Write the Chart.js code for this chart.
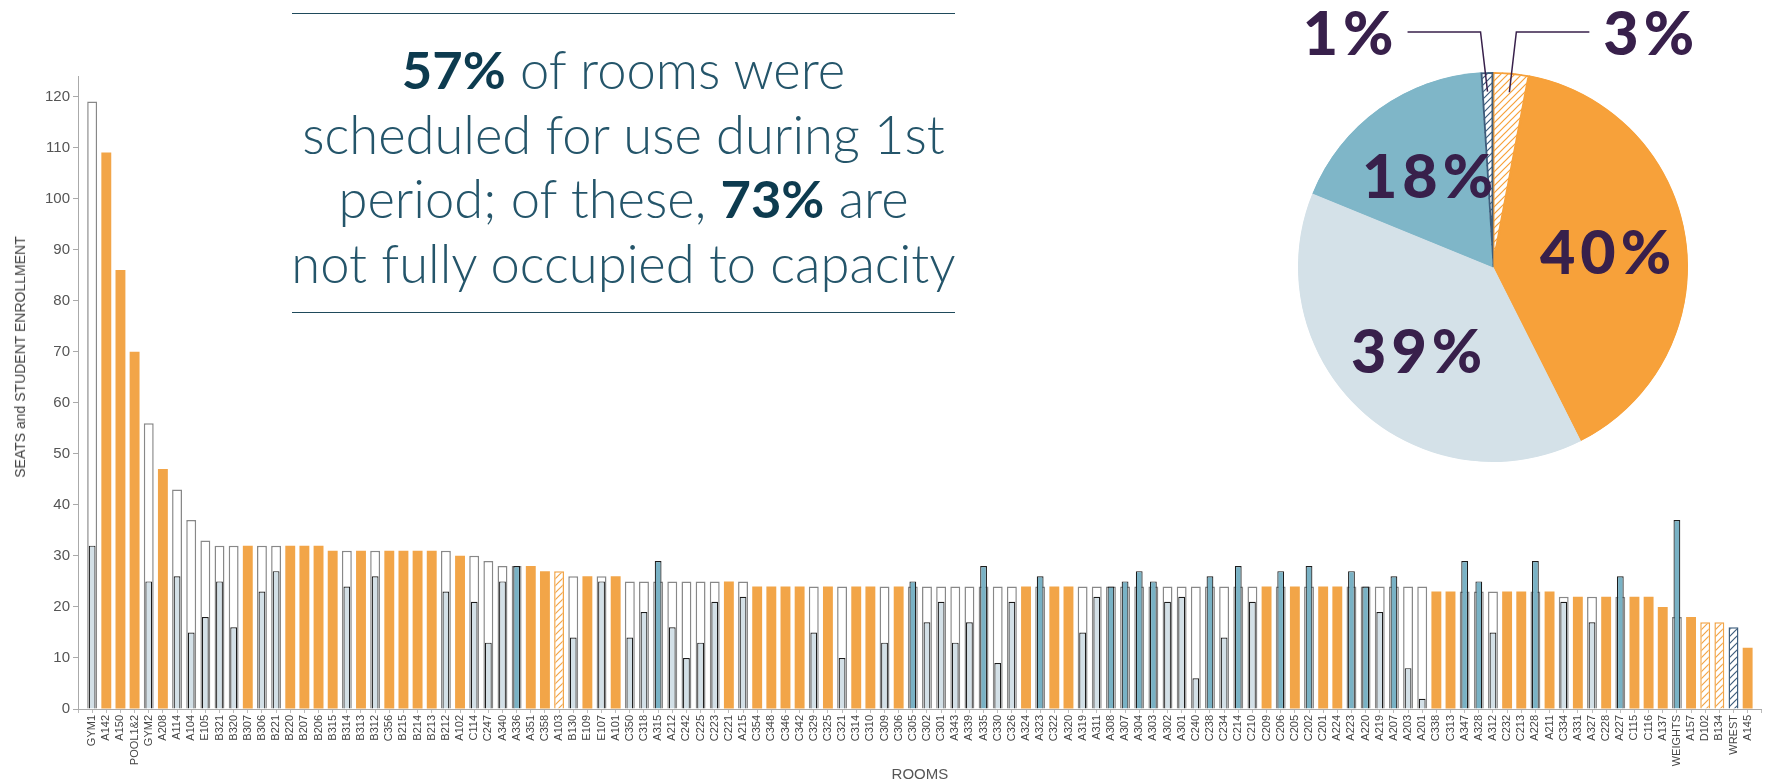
<!DOCTYPE html>
<html>
<head>
<meta charset="utf-8">
<title>Room use during 1st period</title>
<script src="https://cdn.jsdelivr.net/npm/chart.js@4.4.1/dist/chart.umd.min.js"></script>
<style>
  html, body { margin: 0; padding: 0; background: #fff; }
  body { width: 1777px; height: 784px; position: relative; overflow: hidden; }
  #barChart, #pieChart { position: absolute; left: 0; top: 0; }
  #headline {
    position: absolute; left: 292px; top: 13px; width: 663px; height: 298px;
    border-top: 1.5px solid #1f4a5b; border-bottom: 1.5px solid #1f4a5b;
    text-align: center; font-family: Lato, "Open Sans", sans-serif; font-weight: 300;
    font-size: 52.5px; line-height: 64.5px; color: #24556a;
  }
  #headline p { margin: 0 -60px; padding-top: 23px; white-space: nowrap; }
  #headline b { font-weight: 700; color: #0d3b4f; }
  #yTitle {
    position: absolute; left: 20px; top: 357px; width: 0; height: 0;
    font: 14px "Liberation Sans", Arial, sans-serif; color: #444; white-space: nowrap;
  }
  #yTitle span { position: absolute; transform: translate(-50%, -50%) rotate(-90deg); }
</style>
</head>
<body>
<canvas id="barChart" width="1777" height="784"></canvas>
<div id="yTitle"><span>SEATS and STUDENT ENROLLMENT</span></div>
<div id="headline">
  <p><b>57%</b> of rooms were<br>scheduled for use during 1st<br>period; of these, <b>73%</b> are<br>not fully occupied to capacity</p>
</div>
<canvas id="pieChart" width="1777" height="784"></canvas>

<script>
// Rooms in the order they appear on the x axis
const rooms = [
    'GYM1','A142','A150','POOL1&2','GYM2','A208','A114','A104','E105','B321',
    'B320','B307','B306','B221','B220','B207','B206','B315','B314','B313',
    'B312','C356','B215','B214','B213','B212','A102','C114','C247','A340',
    'A336','A351','C358','A103','B130','E109','E107','A101','C350','C318',
    'A315','A212','C242','C225','C223','C221','A215','C354','C348','C346',
    'C342','C329','C325','C321','C314','C310','C309','C306','C305','C302',
    'C301','A343','A339','A335','C330','C326','A324','A323','C322','A320',
    'A319','A311','A308','A307','A304','A303','A302','A301','C240','C238',
    'C234','C214','C210','C209','C206','C205','C202','C201','A224','A223',
    'A220','A219','A207','A203','A201','C338','C313','A347','A328','A312',
    'C232','C213','A228','A211','C334','A331','A327','C228','A227','C115',
    'C116','A137','WEIGHTS','A157','D102','B134','WREST','A145'
];

// Seats in each room (outer bar)
const seats = [
    119,109,86,70,56,47,43,37,33,32,
    32,32,32,32,32,32,32,31,31,31,
    31,31,31,31,31,31,30,30,29,28,
    28,28,27,27,26,26,26,26,25,25,
    25,25,25,25,25,25,25,24,24,24,
    24,24,24,24,24,24,24,24,24,24,
    24,24,24,24,24,24,24,24,24,24,
    24,24,24,24,24,24,24,24,24,24,
    24,24,24,24,24,24,24,24,24,24,
    24,24,24,24,24,23,23,23,23,23,
    23,23,23,23,22,22,22,22,22,22,
    22,20,18,18,17,17,16,12
];

// Students enrolled (inner bar); null = room is exactly full, only one bar
const enrolled = [
    32,null,null,null,25,null,26,15,18,25,
    16,null,23,27,null,null,null,null,24,null,
    26,null,null,null,null,23,null,21,13,25,
    28,null,null,null,14,null,25,null,14,19,
    29,16,10,13,21,null,22,null,null,null,
    null,15,null,10,null,null,13,null,25,17,
    21,13,17,28,9,21,null,26,null,null,
    15,22,24,25,27,25,21,22,6,26,
    14,28,21,null,27,null,28,null,null,27,
    24,19,26,8,2,null,null,29,25,15,
    null,null,29,null,21,null,17,null,26,null,
    null,null,37,null,null,null,null,null
];

// F = full, U = under capacity, O = over capacity, H = hatched orange, W = hatched blue
const roomStatus = [
    'U','F','F','F','U','F','U','U','U','U',
    'U','F','U','U','F','F','F','F','U','F',
    'U','F','F','F','F','U','F','U','U','U',
    'O','F','F','H','U','F','U','F','U','U',
    'O','U','U','U','U','F','U','F','F','F',
    'F','U','F','U','F','F','U','F','O','U',
    'U','U','U','O','U','U','F','O','F','F',
    'U','U','O','O','O','O','U','U','U','O',
    'U','O','U','F','O','F','O','F','F','O',
    'O','U','O','U','U','F','F','O','O','U',
    'F','F','O','F','U','F','U','F','O','F',
    'F','F','O','F','H','H','W','F'
];

const yTickValues = [0, 10, 20, 30, 40, 50, 60, 70, 80, 90, 100, 110, 120];

// Pie: share of scheduled rooms by status
const pieLabels = ['Full (hatched)', 'Full', 'Under capacity', 'Over capacity', 'Over capacity (hatched)'];
const pieValues = [3, 40, 39, 18, 1];

const ORANGE = '#f2a548';
const LIGHT = '#d3e0e7';
const BLUE = '#79b2c5';
const HATCH_BLUE = '#3d5d7c';
const PURPLE = '#38204b';

Chart.defaults.font.family = '"Liberation Sans", Arial, sans-serif';

function makeHatch(ctx, color) {
    const c = document.createElement('canvas');
    c.width = 7; c.height = 7;
    const g = c.getContext('2d');
    g.fillStyle = '#fff';
    g.fillRect(0, 0, 7, 7);
    g.strokeStyle = color;
    g.lineWidth = 1.2;
    g.beginPath();
    g.moveTo(-1, 8); g.lineTo(8, -1);
    g.moveTo(-1, 1); g.lineTo(1, -1);
    g.moveTo(6, 8); g.lineTo(8, 6);
    g.stroke();
    return ctx.createPattern(c, 'repeat');
}

const barCtx = document.getElementById('barChart').getContext('2d');
const hatchOrange = makeHatch(barCtx, ORANGE);
const hatchBlue = makeHatch(barCtx, HATCH_BLUE);

// one empty slot on each side of the axis, like the original
const pad = arr => [null, ...arr, null];

const seatFill = { F: ORANGE, U: '#fff', O: '#fff', H: hatchOrange, W: hatchBlue };
const seatBorder = { F: ORANGE, U: '#888', O: '#888', H: ORANGE, W: HATCH_BLUE };
const seatBorderWidth = { F: 0, U: 1.5, O: 1.5, H: 1.5, W: 1.5 };

new Chart(barCtx, {
    type: 'bar',
    data: {
        labels: ['', ...rooms, ''],
        datasets: [{
            label: 'Seats',
            data: pad(seats),
            order: 2,
            grouped: false,
            categoryPercentage: 1,
            barPercentage: 0.7,
            backgroundColor: pad(roomStatus.map(s => seatFill[s])),
            borderColor: pad(roomStatus.map(s => seatBorder[s])),
            borderWidth: pad(roomStatus.map(s => seatBorderWidth[s]))
        }, {
            label: 'Enrollment',
            data: pad(enrolled),
            order: 1,
            grouped: false,
            categoryPercentage: 1,
            barPercentage: 0.48,
            backgroundColor: pad(roomStatus.map(s => s === 'O' ? BLUE : LIGHT)),
            borderColor: '#1c1c1c',
            borderWidth: 1.2
        }]
    },
    options: {
        responsive: false,
        animation: false,
        layout: { padding: { top: 76, right: 9, left: 0, bottom: 0 } },
        plugins: { legend: { display: false }, tooltip: { enabled: false } },
        scales: {
            x: {
                offset: false,
                grid: { drawOnChartArea: false, tickLength: 4, color: '#bbb', offset: false },
                border: { color: '#aaa' },
                ticks: { autoSkip: false, maxRotation: 90, minRotation: 90, padding: 2, color: '#444', font: { size: 11 } },
                title: { display: true, text: 'ROOMS', color: '#555', font: { size: 15 }, padding: 0 },
                afterFit: scale => { scale.height = 75; }
            },
            y: {
                min: 0,
                max: 124,
                afterBuildTicks: axis => { axis.ticks = yTickValues.map(v => ({ value: v })); },
                grid: { drawOnChartArea: false, tickLength: 5, color: '#aaa' },
                border: { color: '#aaa' },
                ticks: { color: '#555', font: { size: 15 }, padding: 3 },
                // title is the rotated #yTitle element, it sits above the middle of the axis
                title: { display: false },
                afterFit: scale => { scale.width = 78; }
            }
        }
    }
});

// big labels inside the slices, small slices get a label above with a leader line
const pieLabelPlugin = {
    id: 'pieLabels',
    afterDatasetsDraw(chart) {
        const ctx = chart.ctx;
        const arcs = chart.getDatasetMeta(0).data;
        ctx.save();
        ctx.fillStyle = PURPLE;
        ctx.strokeStyle = PURPLE;
        ctx.font = '900 61px Lato, "DejaVu Sans", sans-serif';
        ctx.letterSpacing = '5px';
        ctx.textBaseline = 'middle';
        arcs.forEach((arc, i) => {
            const text = pieValues[i] + '%';
            const mid = (arc.startAngle + arc.endAngle) / 2;
            if (pieValues[i] >= 10) {
                const r = arc.outerRadius * 0.58;
                ctx.textAlign = 'center';
                ctx.fillText(text, arc.x + Math.cos(mid) * r + 3, arc.y + Math.sin(mid) * r + 3);
            } else {
                const r = arc.outerRadius * 0.9;
                const ax = arc.x + Math.cos(mid) * r;
                const ay = arc.y + Math.sin(mid) * r;
                const side = Math.cos(mid) < 0 ? -1 : 1;
                const ly = arc.y - arc.outerRadius - 40;
                const ex = ax + side * 7;
                const lx = ex + side * 73;
                ctx.lineWidth = 1.5;
                ctx.beginPath();
                ctx.moveTo(ax, ay);
                ctx.lineTo(ex, ly);
                ctx.lineTo(lx, ly);
                ctx.stroke();
                ctx.textAlign = side < 0 ? 'right' : 'left';
                ctx.fillText(text, lx + side * 14 + (side < 0 ? 5 : 0), ly + 3);
            }
        });
        ctx.restore();
    }
};

const pieCtx = document.getElementById('pieChart').getContext('2d');
new Chart(pieCtx, {
    type: 'pie',
    data: {
        labels: pieLabels,
        datasets: [{
            data: pieValues,
            backgroundColor: [makeHatch(pieCtx, '#f7a13a'), '#f7a13a', '#d4e1e8', '#7fb6c8', makeHatch(pieCtx, HATCH_BLUE)],
            borderColor: ['#f7a13a', '#f7a13a', '#d4e1e8', '#7fb6c8', HATCH_BLUE],
            borderWidth: [1.5, 1, 1, 1, 1.5],
            borderAlign: 'inner'
        }]
    },
    options: {
        responsive: false,
        animation: false,
        layout: { padding: { left: 1298, right: 89, top: 72, bottom: 322 } },
        plugins: { legend: { display: false }, tooltip: { enabled: false } }
    },
    plugins: [pieLabelPlugin]
});
</script>
</body>
</html>
